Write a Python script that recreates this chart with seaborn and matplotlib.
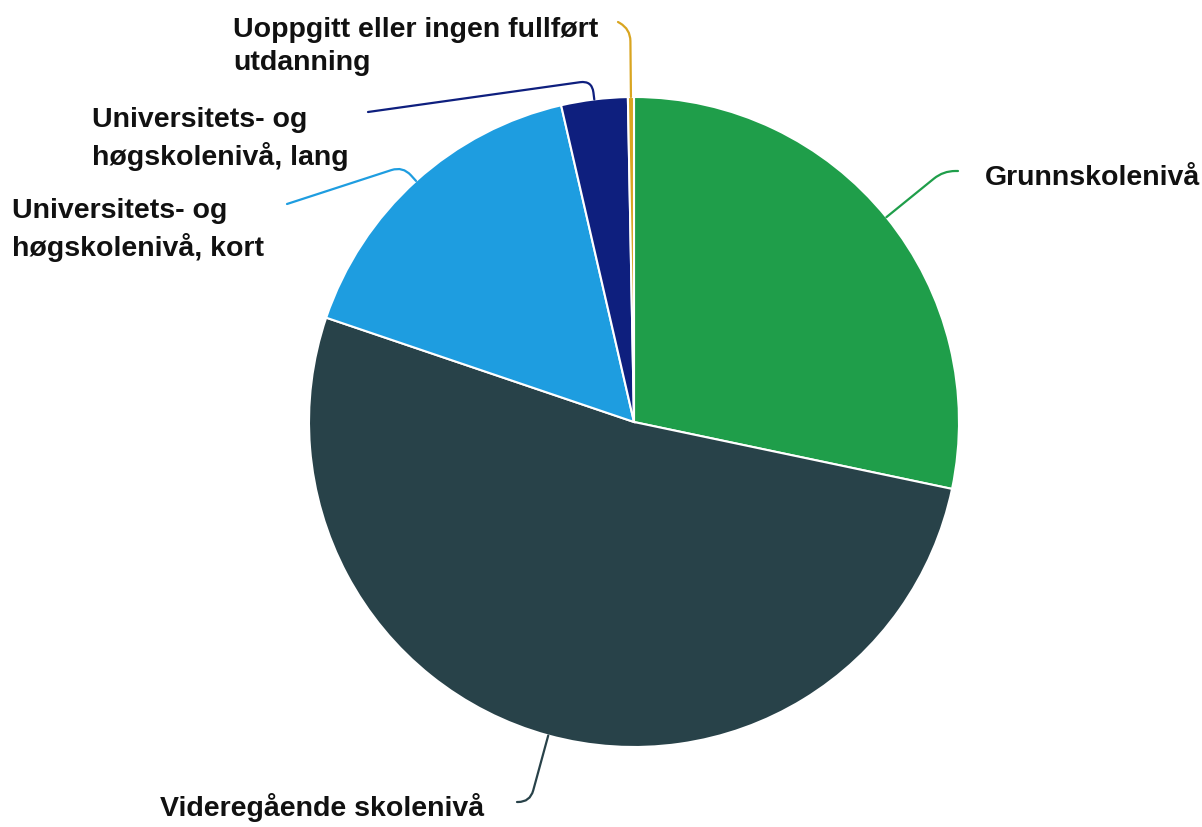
import numpy as np
import matplotlib.pyplot as plt
import seaborn as sns

# education level shares (percent), clockwise from 12 o'clock
labels = [
    "Grunnskolenivå",
    "Videregående skolenivå",
    "Universitets- og\nhøgskolenivå, kort",
    "Universitets- og\nhøgskolenivå, lang",
    "Uoppgitt eller ingen fullført\nutdanning",
]
shares = [28.3, 51.9, 16.2, 3.3, 0.3]
colors = ["#1f9e4a", "#284249", "#1e9de0", "#0e1f7e", "#d9a520"]

sns.set_theme(style="white")
plt.rcParams['font.family'] = ['Liberation Sans', 'DejaVu Sans']

W, H = 1202, 828
fig = plt.figure(figsize=(W / 100, H / 100), dpi=100)
ax = fig.add_axes([0, 0, 1, 1])


def up(y):
    # image rows -> data y (pointing up)
    return H - y


cx, cy, r = 634, up(423), 325
wedges, _ = ax.pie(shares, colors=colors, startangle=90, counterclock=False,
                   center=(cx, cy), radius=r,
                   wedgeprops=dict(edgecolor='white', linewidth=1.5))
ax.set_xlim(0, W)
ax.set_ylim(0, H)
ax.set_aspect('equal')
ax.axis('off')

# label layout: text position, connector end, leg angle
layout = [
    dict(text=(985, 178), end=(958, 172), leg=0),
    dict(text=(160, 808), end=(517, 803), leg=0),
    dict(text=(12, 230), end=(287, 205), leg=18),
    dict(text=(92, 139), end=(368, 113), leg=8),
    dict(text=(233, 46), end=(618, 23), leg=-30),
]

for w, lab, c, lay in zip(wedges, labels, colors, layout):
    mid = (w.theta1 + w.theta2) / 2
    rim = (cx + r * np.cos(np.radians(mid)), cy + r * np.sin(np.radians(mid)))
    ex, ey = lay['end']
    ax.annotate('', xy=rim, xytext=(ex, up(ey)),
                arrowprops=dict(arrowstyle='-', color=c, lw=1.6,
                                shrinkA=0, shrinkB=0,
                                connectionstyle=f"angle,angleA={lay['leg']},angleB={mid},rad=12"))
    tx, ty = lay['text']
    ax.text(tx, up(ty), lab, ha='left', va='center', fontsize=20.5,
            fontweight='bold', color='#111111', linespacing=1.35)

plt.savefig('out.png', dpi=100)
